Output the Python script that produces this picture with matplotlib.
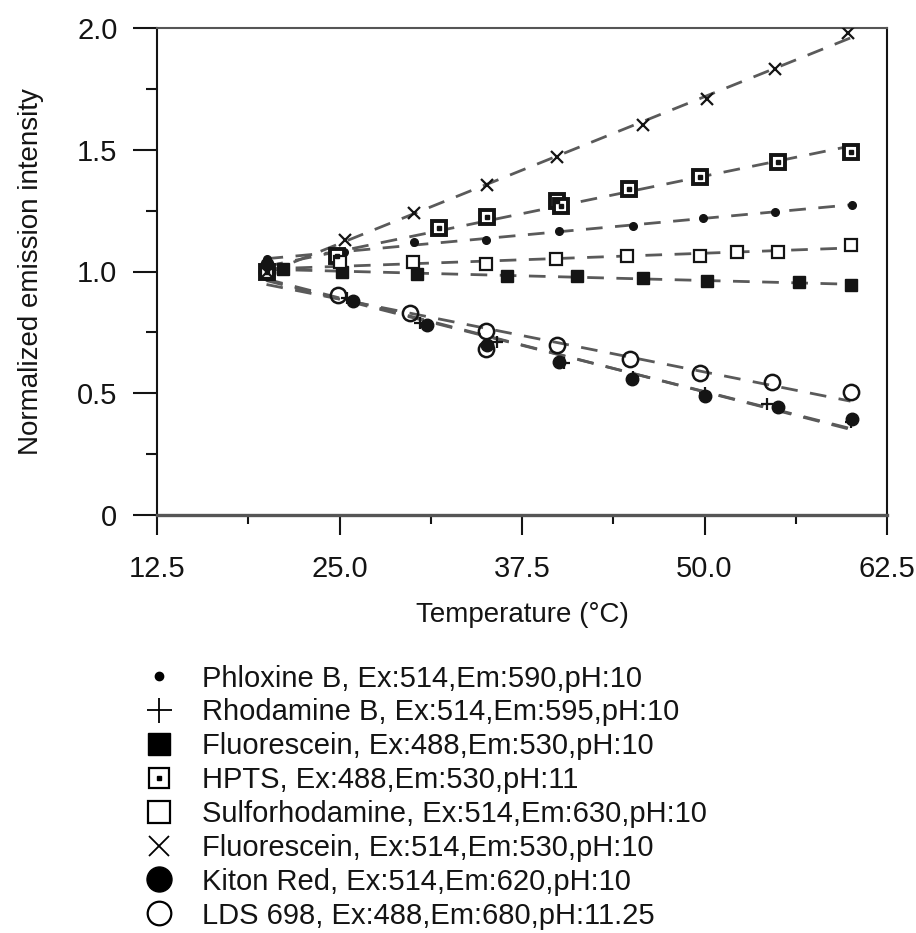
import matplotlib

matplotlib.use("Agg")
import matplotlib.pyplot as plt
import numpy as np
from matplotlib.lines import Line2D
from matplotlib.ticker import MultipleLocator

plt.rcParams["font.family"] = ["Liberation Sans", "DejaVu Sans"]

INK = "#141414"
FIT = "#5a5a5a"

# temperature (degC) and normalized emission intensity
phlox_t = [20, 25.3, 30.1, 35.0, 40.0, 45.1, 49.9, 54.8, 60.1]
phlox_i = [1.05, 1.08, 1.12, 1.13, 1.165, 1.185, 1.22, 1.245, 1.275]

rhodb_t = [20, 25.5, 30.5, 35.8, 40.4, 45.1, 50.0, 54.3, 60.0]
rhodb_i = [0.99, 0.89, 0.79, 0.71, 0.625, 0.565, 0.50, 0.455, 0.38]

fl488_t = [21.1, 25.2, 30.3, 36.5, 41.3, 45.8, 50.2, 56.5, 60.0]
fl488_i = [1.01, 1.00, 0.99, 0.98, 0.98, 0.975, 0.96, 0.955, 0.945]

hpts_t = [20, 24.8, 31.8, 35.1, 39.9, 40.2, 44.8, 49.7, 55.0, 60.0]
hpts_i = [1.00, 1.065, 1.18, 1.225, 1.29, 1.27, 1.34, 1.39, 1.45, 1.49]

sulfo_t = [20, 25.0, 30.0, 35.0, 39.8, 44.7, 49.7, 52.2, 55.0, 60.0]
sulfo_i = [1.00, 1.04, 1.04, 1.03, 1.05, 1.065, 1.065, 1.08, 1.08, 1.11]

fl514_t = [20, 25.4, 30.1, 35.1, 39.9, 45.8, 50.2, 54.8, 59.8]
fl514_i = [1.00, 1.13, 1.24, 1.355, 1.47, 1.60, 1.71, 1.83, 1.98]

kiton_t = [20, 25.9, 31.0, 35.1, 40.0, 45.0, 50.0, 55.0, 60.1]
kiton_i = [1.03, 0.877, 0.78, 0.70, 0.63, 0.56, 0.49, 0.445, 0.395]

lds_t = [20, 24.9, 29.8, 35.0, 35.0, 39.9, 44.9, 49.7, 54.6, 60.0]
lds_i = [1.00, 0.905, 0.83, 0.755, 0.68, 0.70, 0.64, 0.585, 0.545, 0.505]

labels = [
    "Phloxine B, Ex:514,Em:590,pH:10",
    "Rhodamine B, Ex:514,Em:595,pH:10",
    "Fluorescein, Ex:488,Em:530,pH:10",
    "HPTS, Ex:488,Em:530,pH:11",
    "Sulforhodamine, Ex:514,Em:630,pH:10",
    "Fluorescein, Ex:514,Em:530,pH:10",
    "Kiton Red, Ex:514,Em:620,pH:10",
    "LDS 698, Ex:488,Em:680,pH:11.25",
]

fig = plt.figure(figsize=(9.16, 9.33), dpi=100)
ax = fig.add_axes([157 / 916, 1 - 515 / 933, 730 / 916, 487 / 933])

series = [
    (phlox_t, phlox_i),
    (rhodb_t, rhodb_i),
    (fl488_t, fl488_i),
    (hpts_t, hpts_i),
    (sulfo_t, sulfo_i),
    (fl514_t, fl514_i),
    (kiton_t, kiton_i),
    (lds_t, lds_i),
]

# dashed linear fits, drawn over the measured range
span = np.array([20.0, 60.0])
for t, v in series:
    k, b = np.polyfit(t, v, 1)
    ax.plot(span, k * span + b, color=FIT, lw=2.0, dashes=(6, 4.5), zorder=2)

ax.plot(phlox_t, phlox_i, "o", ms=5.5, color=INK, zorder=3)
ax.plot(rhodb_t, rhodb_i, "+", ms=9, mew=1.6, color=INK, zorder=3)
ax.plot(fl488_t, fl488_i, "s", ms=9, color=INK, zorder=3)
ax.plot(hpts_t, hpts_i, "s", ms=9.5, mfc="white", mec=INK, mew=2.8, zorder=3)
ax.plot(hpts_t, hpts_i, "s", ms=3.5, color=INK, zorder=4)
ax.plot(sulfo_t, sulfo_i, "s", ms=8.5, mfc="white", mec=INK, mew=1.6, zorder=3)
ax.plot(fl514_t, fl514_i, "x", ms=9, mew=1.6, color=INK, zorder=3)
ax.plot(kiton_t, kiton_i, "o", ms=9, color=INK, zorder=3)
ax.plot(lds_t, lds_i, "o", ms=11, mfc="none", mec=INK, mew=1.8, zorder=3)

ax.set_xlim(12.5, 62.5)
ax.set_ylim(0, 2.0)
ax.xaxis.set_minor_locator(MultipleLocator(6.25))
ax.yaxis.set_minor_locator(MultipleLocator(0.25))
ax.set_xticks([12.5, 25, 37.5, 50, 62.5], ["12.5", "25.0", "37.5", "50.0", "62.5"])
ax.set_yticks([0, 0.5, 1.0, 1.5, 2.0], ["0", "0.5", "1.0", "1.5", "2.0"])

ax.tick_params(which="both", direction="out", colors=INK, width=1.5, labelsize=21)
ax.tick_params(axis="x", which="major", length=14.5, pad=14)
ax.tick_params(axis="y", which="major", length=17, pad=11.5)
ax.tick_params(axis="x", which="minor", length=6.5)
ax.tick_params(axis="y", which="minor", length=8)
for s in ax.spines.values():
    s.set_linewidth(1.5)
    s.set_color(INK)
ax.spines["bottom"].set_linewidth(2.4)
ax.spines["bottom"].set_color("#555555")
ax.spines["top"].set_color("#555555")

ax.set_xlabel("Temperature (\u00b0C)", fontsize=20, color=INK, labelpad=14)
ax.set_ylabel("Normalized emission intensity", fontsize=20, color=INK, labelpad=24)

handles = [
    Line2D([], [], ls="none", marker="o", ms=6, color="black"),
    Line2D([], [], ls="none", marker="+", ms=18, mew=1.3, color="black"),
    Line2D([], [], ls="none", marker="s", ms=16, color="black"),
    (Line2D([], [], ls="none", marker="s", ms=15, mfc="white", mec="black", mew=1.6),
     Line2D([], [], ls="none", marker="s", ms=3.5, color="black")),
    Line2D([], [], ls="none", marker="s", ms=16, mfc="white", mec="black", mew=1.6),
    Line2D([], [], ls="none", marker="x", ms=15, mew=1.3, color="black"),
    Line2D([], [], ls="none", marker="o", ms=18, color="black"),
    Line2D([], [], ls="none", marker="o", ms=17, mfc="white", mec="black", mew=1.6),
]
fig.legend(handles, labels, loc="upper left", bbox_to_anchor=(133 / 916, 1 - 653 / 933),
           frameon=False, fontsize=21, handlelength=1.0, handletextpad=0.98,
           labelspacing=0.2, borderaxespad=0, labelcolor=INK)

fig.savefig("out.png", dpi=100)
